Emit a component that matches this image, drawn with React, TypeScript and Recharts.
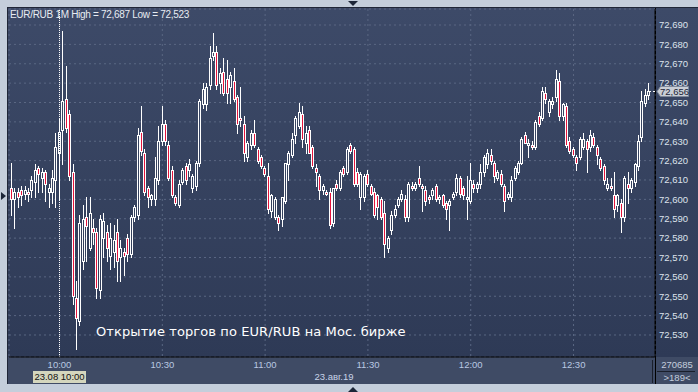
import {
	ComposedChart,
	Bar,
	XAxis,
	YAxis,
	CartesianGrid,
	ReferenceLine,
	ReferenceDot,
} from 'recharts'

// minutes relative to 10:00, first candle is 09:46
const FIRST_MINUTE = -14

const OPENS = [
	72.606, 72.600, 72.604, 72.605, 72.603, 72.604, 72.605, 72.609, 72.616, 72.611, 72.614, 72.604, 72.604, 72.610,
	72.624, 72.636, 72.652, 72.644, 72.614, 72.549, 72.537, 72.568, 72.591, 72.575,
	72.585, 72.583, 72.553, 72.580, 72.583, 72.571, 72.573, 72.583, 72.570, 72.573,
	72.580, 72.572, 72.591, 72.592, 72.635, 72.624, 72.606, 72.600, 72.600, 72.610,
	72.630, 72.639, 72.628, 72.615, 72.601, 72.597, 72.609, 72.617, 72.615, 72.606,
	72.607, 72.619, 72.649, 72.649, 72.659, 72.674, 72.676, 72.660, 72.666, 72.662,
	72.658, 72.661, 72.653, 72.642, 72.639, 72.622, 72.628, 72.634, 72.626, 72.622,
	72.616, 72.612, 72.594, 72.591, 72.591, 72.590, 72.599, 72.618, 72.623, 72.633,
	72.638, 72.644, 72.629, 72.636, 72.627, 72.616, 72.612, 72.605, 72.604, 72.604,
	72.588, 72.608, 72.606, 72.616, 72.614, 72.628, 72.626, 72.614, 72.601, 72.601,
	72.613, 72.607, 72.604, 72.602, 72.600, 72.593, 72.575, 72.584, 72.592, 72.597,
	72.600, 72.600, 72.591, 72.607, 72.606, 72.611, 72.607, 72.605, 72.601, 72.602,
	72.607, 72.600, 72.602, 72.598, 72.597, 72.601, 72.604, 72.611, 72.606, 72.600,
	72.599, 72.608, 72.606, 72.608, 72.614, 72.618, 72.623, 72.619, 72.611, 72.613,
	72.607, 72.601, 72.601, 72.611, 72.614, 72.619, 72.633, 72.628, 72.628, 72.627,
	72.643, 72.642, 72.655, 72.645, 72.649, 72.653, 72.661, 72.643, 72.648, 72.630,
	72.626, 72.622, 72.622, 72.627, 72.630, 72.627, 72.632, 72.627, 72.621, 72.617,
	72.606, 72.607, 72.602, 72.597, 72.598, 72.591, 72.608, 72.606, 72.609, 72.617,
	72.632, 72.650, 72.654,
]

const HIGHS = [
	72.619, 72.606, 72.606, 72.607, 72.607, 72.606, 72.612, 72.618, 72.617, 72.616, 72.615, 72.608, 72.615, 72.634,
	72.642, 72.687, 72.669, 72.646, 72.618, 72.558, 72.592, 72.597, 72.601, 72.601,
	72.590, 72.585, 72.592, 72.593, 72.587, 72.588, 72.587, 72.590, 72.579, 72.575,
	72.582, 72.592, 72.597, 72.637, 72.648, 72.626, 72.607, 72.603, 72.622, 72.638,
	72.648, 72.641, 72.630, 72.617, 72.602, 72.610, 72.616, 72.619, 72.621, 72.613,
	72.620, 72.652, 72.660, 72.660, 72.679, 72.686, 72.679, 72.668, 72.673, 72.672,
	72.666, 72.668, 72.654, 72.658, 72.643, 72.630, 72.636, 72.641, 72.627, 72.623,
	72.617, 72.619, 72.603, 72.601, 72.592, 72.601, 72.619, 72.625, 72.634, 72.643,
	72.650, 72.648, 72.638, 72.638, 72.628, 72.618, 72.613, 72.608, 72.605, 72.606,
	72.606, 72.610, 72.615, 72.617, 72.627, 72.629, 72.627, 72.616, 72.614, 72.613,
	72.615, 72.608, 72.606, 72.603, 72.601, 72.599, 72.581, 72.594, 72.597, 72.601,
	72.605, 72.602, 72.609, 72.609, 72.609, 72.617, 72.608, 72.607, 72.602, 72.606,
	72.608, 72.602, 72.603, 72.599, 72.600, 72.604, 72.613, 72.612, 72.607, 72.612,
	72.619, 72.610, 72.609, 72.618, 72.623, 72.626, 72.626, 72.620, 72.615, 72.615,
	72.608, 72.604, 72.612, 72.617, 72.620, 72.632, 72.635, 72.631, 72.630, 72.641,
	72.645, 72.658, 72.658, 72.652, 72.653, 72.667, 72.665, 72.650, 72.650, 72.632,
	72.627, 72.623, 72.632, 72.634, 72.631, 72.636, 72.634, 72.628, 72.622, 72.618,
	72.611, 72.611, 72.614, 72.603, 72.600, 72.612, 72.614, 72.611, 72.619, 72.633,
	72.656, 72.657, 72.660,
]

const LOWS = [
	72.592, 72.585, 72.596, 72.597, 72.600, 72.599, 72.601, 72.601, 72.604, 72.604, 72.599, 72.596, 72.598, 72.596,
	72.600, 72.618, 72.635, 72.610, 72.546, 72.523, 72.535, 72.564, 72.568, 72.574,
	72.577, 72.549, 72.549, 72.570, 72.568, 72.564, 72.565, 72.558, 72.558, 72.561,
	72.568, 72.570, 72.589, 72.590, 72.623, 72.602, 72.596, 72.597, 72.597, 72.608,
	72.628, 72.628, 72.610, 72.601, 72.597, 72.596, 72.608, 72.608, 72.612, 72.604,
	72.605, 72.617, 72.647, 72.646, 72.657, 72.672, 72.657, 72.655, 72.654, 72.650,
	72.650, 72.651, 72.634, 72.638, 72.620, 72.620, 72.626, 72.627, 72.619, 72.616,
	72.612, 72.593, 72.591, 72.590, 72.584, 72.586, 72.598, 72.610, 72.622, 72.629,
	72.637, 72.627, 72.624, 72.624, 72.616, 72.607, 72.600, 72.603, 72.602, 72.585,
	72.586, 72.605, 72.605, 72.612, 72.613, 72.624, 72.607, 72.607, 72.595, 72.599,
	72.607, 72.602, 72.591, 72.590, 72.590, 72.570, 72.573, 72.582, 72.591, 72.596,
	72.599, 72.589, 72.589, 72.605, 72.605, 72.607, 72.594, 72.597, 72.598, 72.600,
	72.599, 72.598, 72.596, 72.590, 72.584, 72.600, 72.602, 72.601, 72.600, 72.590,
	72.598, 72.604, 72.604, 72.606, 72.612, 72.616, 72.618, 72.609, 72.610, 72.607,
	72.594, 72.600, 72.599, 72.610, 72.613, 72.618, 72.629, 72.622, 72.626, 72.626,
	72.638, 72.641, 72.650, 72.643, 72.647, 72.651, 72.641, 72.641, 72.627, 72.624,
	72.622, 72.615, 72.621, 72.626, 72.614, 72.625, 72.627, 72.618, 72.615, 72.608,
	72.605, 72.605, 72.591, 72.594, 72.583, 72.589, 72.598, 72.604, 72.607, 72.615,
	72.630, 72.648, 72.652,
]

const CLOSES = [
	72.600, 72.604, 72.601, 72.602, 72.605, 72.603, 72.610, 72.615, 72.613, 72.614, 72.608, 72.606, 72.611, 72.627,
	72.635, 72.651, 72.637, 72.612, 72.550, 72.539, 72.588, 72.590, 72.586, 72.593,
	72.583, 72.554, 72.590, 72.589, 72.575, 72.580, 72.579, 72.568, 72.575, 72.571,
	72.572, 72.591, 72.596, 72.633, 72.625, 72.604, 72.601, 72.602, 72.611, 72.630,
	72.639, 72.630, 72.611, 72.602, 72.598, 72.608, 72.615, 72.610, 72.618, 72.612,
	72.619, 72.651, 72.657, 72.658, 72.673, 72.676, 72.659, 72.665, 72.655, 72.655,
	72.664, 72.652, 72.639, 72.641, 72.624, 72.629, 72.634, 72.628, 72.620, 72.617,
	72.613, 72.595, 72.602, 72.600, 72.588, 72.601, 72.619, 72.624, 72.631, 72.642,
	72.645, 72.631, 72.634, 72.624, 72.617, 72.614, 72.605, 72.607, 72.603, 72.587,
	72.606, 72.606, 72.614, 72.613, 72.626, 72.625, 72.608, 72.608, 72.613, 72.612,
	72.608, 72.603, 72.592, 72.596, 72.591, 72.577, 72.580, 72.592, 72.595, 72.600,
	72.603, 72.591, 72.608, 72.606, 72.608, 72.608, 72.606, 72.599, 72.600, 72.605,
	72.600, 72.601, 72.597, 72.595, 72.599, 72.603, 72.611, 72.603, 72.602, 72.601,
	72.610, 72.606, 72.608, 72.614, 72.622, 72.624, 72.620, 72.612, 72.614, 72.608,
	72.599, 72.603, 72.610, 72.616, 72.619, 72.631, 72.629, 72.629, 72.627, 72.640,
	72.639, 72.656, 72.652, 72.651, 72.651, 72.662, 72.643, 72.649, 72.628, 72.625,
	72.623, 72.619, 72.631, 72.631, 72.626, 72.633, 72.628, 72.623, 72.616, 72.610,
	72.608, 72.606, 72.595, 72.602, 72.591, 72.611, 72.606, 72.610, 72.618, 72.630,
	72.651, 72.654, 72.656,
]

const TIME_TICKS = [0, 30, 60, 90, 120, 150]
const TIME_LABELS = ['10:00', '10:30', '11:00', '11:30', '12:00', '12:30']
const PRICE_TICKS = [
	72.53, 72.54, 72.55, 72.56, 72.57, 72.58, 72.59, 72.6,
	72.61, 72.62, 72.63, 72.64, 72.65, 72.66, 72.67, 72.68, 72.69,
]
const LAST_PRICE = 72.656

const X_DOMAIN = [-14.74, 173.77]
const Y_DOMAIN = [72.51864, 72.69826]
// plot box inside the page
const PLOT_TOP = 9
const PLOT_HEIGHT = 348

const data = OPENS.map((open, i) => ({
	m: FIRST_MINUTE + i,
	open,
	high: HIGHS[i],
	low: LOWS[i],
	close: CLOSES[i],
	range: [LOWS[i], HIGHS[i]],
}))

const fmtPrice = (v: number) => v.toFixed(3).replace('.', ',')
const AXIS_FONT = '"Liberation Sans", Arial, sans-serif'

const renderCandle = (props: any) => {
	const { x, y, width, height, payload, index } = props
	const { open, close, high, low } = payload
	const span = high - low || 1
	const toY = (v: number) => y + (height * (high - v)) / span
	const cx = Math.floor(x + width / 2)
	const top = Math.round(toY(Math.max(open, close)))
	const bottom = Math.round(toY(Math.min(open, close)))
	const down = close < open
	return (
		<g key={`c-${index}`}>
			<line x1={cx + 0.5} x2={cx + 0.5} y1={Math.round(y)} y2={Math.round(y + height) + 1} stroke="#fff" strokeWidth={1} />
			<rect
				x={cx - 0.5}
				y={top + 0.5}
				width={2}
				height={Math.max(bottom - top, 1)}
				fill={down ? '#e4143c' : 'url(#plotBg)'}
				stroke="#fff"
				strokeWidth={1}
			/>
		</g>
	)
}

// short dashed tail from the last candle to the price axis
const LastDash = (props: any) => {
	const { cx, cy } = props
	const y = Math.round(cy) + 0.5
	return (
		<g>
			<line x1={cx - 6} x2={cx - 4} y1={y} y2={y} stroke="#fff" />
			<line x1={cx - 2} x2={cx} y1={y} y2={y} stroke="#fff" />
		</g>
	)
}

const tri = (w: number, h: number, dir: 'down' | 'up' | 'right') => {
	const style: any = { width: 0, height: 0, position: 'absolute' }
	if (dir === 'down') Object.assign(style, { borderLeft: `${w}px solid transparent`, borderRight: `${w}px solid transparent`, borderTop: `${h}px solid #1c2638` })
	if (dir === 'up') Object.assign(style, { borderLeft: `${w}px solid transparent`, borderRight: `${w}px solid transparent`, borderBottom: `${h}px solid #1c2638` })
	if (dir === 'right') Object.assign(style, { borderTop: `${w}px solid transparent`, borderBottom: `${w}px solid transparent`, borderLeft: `${h}px solid #1c2638` })
	return style
}

export default function App() {
	const tagY = Math.round(PLOT_TOP + ((Y_DOMAIN[1] - LAST_PRICE) / (Y_DOMAIN[1] - Y_DOMAIN[0])) * PLOT_HEIGHT)
	return (
		<div style={{ position: 'relative', width: 698, height: 392, background: '#c4cedb', overflow: 'hidden', fontFamily: AXIS_FONT }}>
			<style>{'body{margin:0}'}</style>
			{/* frame + panels */}
			<div style={{ position: 'absolute', left: 7, top: 7, width: 691, height: 1, background: '#1f2637' }} />
			<div style={{ position: 'absolute', left: 7, top: 7, width: 1, height: 377, background: '#1f2637' }} />
			<div style={{ position: 'absolute', left: 8, top: 8, width: 690, height: 349, background: 'linear-gradient(#3d4a68, #2e3a56)' }} />
			<div style={{ position: 'absolute', left: 8, top: 357, width: 690, height: 27, background: '#3f4b65' }} />
			<div style={{ position: 'absolute', left: 655, top: 8, width: 1, height: 376, background: '#000' }} />
			<div style={{ position: 'absolute', left: 652, top: 360, width: 1, height: 23, background: '#1a1f2b' }} />
			<div style={{ position: 'absolute', left: 657, top: 371, width: 38, height: 1, background: '#1a1f2b' }} />
			<div style={{ ...tri(5, 5, 'down'), left: 348, top: 1 }} />
			<div style={{ ...tri(5, 5, 'up'), left: 348, top: 387 }} />
			<div style={{ ...tri(4, 5, 'right'), left: 1, top: 192 }} />

			<div style={{ position: 'absolute', left: 8, top: 8 }}>
				<ComposedChart width={690} height={376} data={data} margin={{ top: 1, right: 0, bottom: 0, left: 1 }}>
					<defs>
						<linearGradient id="plotBg" x1="0" y1="0" x2="0" y2="349" gradientUnits="userSpaceOnUse">
							<stop offset="0" stopColor="#3d4a68" />
							<stop offset="1" stopColor="#2e3a56" />
						</linearGradient>
					</defs>
					<CartesianGrid stroke="#5a6783" strokeDasharray="2 3" fill="url(#plotBg)" />
					<XAxis
						type="number"
						dataKey="m"
						domain={X_DOMAIN}
						allowDataOverflow
						ticks={TIME_TICKS}
						interval={0}
						tickFormatter={(v: number) => TIME_LABELS[TIME_TICKS.indexOf(v)]}
						height={27}
						tickSize={2}
						tickMargin={2}
						tickLine={false}
						axisLine={{ stroke: '#000' }}
						tick={{ fill: '#b9c8e2', fontSize: 9.5, fontFamily: AXIS_FONT }}
					/>
					<YAxis
						orientation="right"
						type="number"
						domain={Y_DOMAIN}
						allowDataOverflow
						ticks={PRICE_TICKS}
						interval={0}
						tickFormatter={fmtPrice}
						width={43}
						tickSize={2}
						tickMargin={2}
						tickLine={false}
						axisLine={{ stroke: '#000' }}
						tick={{ fill: '#dde3ec', fontSize: 9.5, fontFamily: AXIS_FONT }}
					/>
					<Bar dataKey="range" barSize={3} shape={renderCandle} isAnimationActive={false} />
					<ReferenceLine x={0} stroke="#fff" strokeDasharray="1 1" />
					<ReferenceDot x={X_DOMAIN[1]} y={LAST_PRICE} r={0} shape={(p: any) => <LastDash {...p} />} />
				</ComposedChart>
			</div>

			{/* last price tag on the price axis */}
			<svg style={{ position: 'absolute', left: 655, top: tagY - 7 }} width={40} height={14}>
				<polygon points="2,7.5 5.5,2.5 33.5,2.5 33.5,12.5 5.5,12.5" fill="#c9ced6" stroke="#7d8799" strokeWidth={1} />
				<text x={5} y={11} fontSize={9.5} fontFamily={AXIS_FONT} fill="#1b2436">{fmtPrice(LAST_PRICE)}</text>
			</svg>

			<div style={{ position: 'absolute', left: 10, top: 9, fontSize: 10, letterSpacing: -0.3, color: '#e8ecf2', whiteSpace: 'nowrap' }}>
				EUR/RUB 1M High = 72,687 Low = 72,523
			</div>
			<div style={{ position: 'absolute', left: 96, top: 324, fontSize: 13, letterSpacing: 0.1, color: '#fff', whiteSpace: 'nowrap', fontFamily: '"DejaVu Sans", sans-serif' }}>
				Открытие торгов по EUR/RUB на Мос. бирже
			</div>
			<div style={{ position: 'absolute', left: 33, top: 371, width: 53, height: 12, background: '#d4d6bd', color: '#111', fontSize: 9.5, lineHeight: '12px', textAlign: 'center', whiteSpace: 'nowrap' }}>
				23.08 10:00
			</div>
			<div style={{ position: 'absolute', left: 304, top: 371, width: 60, textAlign: 'center', fontSize: 9.5, color: '#c8d4e8', whiteSpace: 'nowrap' }}>
				23.авг.19
			</div>
			<div style={{ position: 'absolute', left: 656, top: 359, width: 42, textAlign: 'center', fontSize: 9.5, color: '#c4cede' }}>270685</div>
			<div style={{ position: 'absolute', left: 656, top: 372, width: 42, textAlign: 'center', fontSize: 9.5, color: '#c4cede' }}>&gt;189&lt;</div>
		</div>
	)
}
